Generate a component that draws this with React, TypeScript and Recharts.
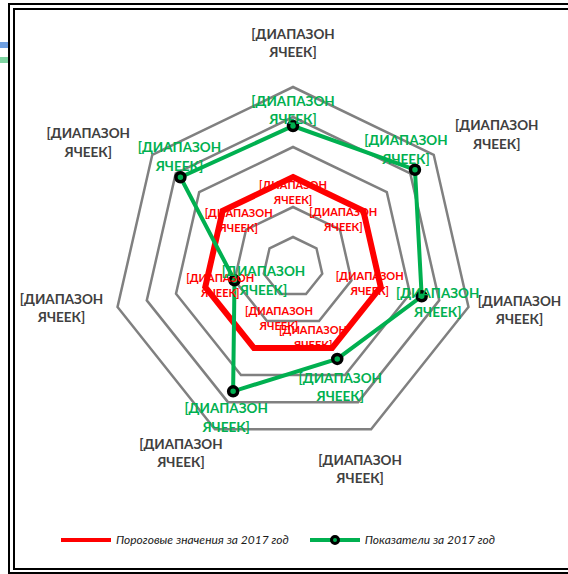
import React from 'react';
import {
  RadarChart,
  Radar,
  PolarGrid,
  PolarAngleAxis,
  PolarRadiusAxis,
  LabelList,
  Legend
} from 'recharts';

// categories (axes), clockwise from the top
const categories = ['c1', 'c2', 'c3', 'c4', 'c5', 'c6', 'c7'];
const categoryLabels = [
  '[ДИАПАЗОН ЯЧЕЕК]',
  '[ДИАПАЗОН ЯЧЕЕК]',
  '[ДИАПАЗОН ЯЧЕЕК]',
  '[ДИАПАЗОН ЯЧЕЕК]',
  '[ДИАПАЗОН ЯЧЕЕК]',
  '[ДИАПАЗОН ЯЧЕЕК]',
  '[ДИАПАЗОН ЯЧЕЕК]'
];

// series
const thresholds = [3, 3, 3, 3, 3, 3, 3];
const actuals = [4.7, 5.2, 4.4, 3.4, 4.6, 2.0, 4.8];
const thresholdLabels = categoryLabels.map(() => '[ДИАПАЗОН ЯЧЕЕК]');
const actualLabels = categoryLabels.map(() => '[ДИАПАЗОН ЯЧЕЕК]');

const radiusTicks = [0, 1, 2, 3, 4, 5, 6];

const seriesNames = ['Пороговые значения за 2017 год', 'Показатели за 2017 год'];

const data = categories.map((c, i) => ({
  id: c,
  threshold: thresholds[i],
  actual: actuals[i],
  thresholdLabel: thresholdLabels[i],
  actualLabel: actualLabels[i]
}));

const W = 568;
const H = 574;
const CX = 293;
const CY = 267;
const R = 180;

const RED = '#FF0000';
const GREEN = '#00B050';
const GRID = '#808080';
const FONT = 'Lato, "Open Sans", sans-serif';

// label nudges (px) like the Excel layout, per axis
const axisLabelNudge = [[0, -44], [63, -20], [51, 3], [-11, 40], [-34, 24], [-56, 1], [-64, -12]];
const redLabelNudge = [[0, 15], [-20, 8], [-11, -4], [-19, -11], [25, -30], [15, -2], [16, 9]];
const greenLabelNudge = [[0, -16], [-9, -20], [16, 6], [3, 28], [-7, 26], [29, 0], [-1, -21]];

const TwoLines = ({ x, y, text, fill, size }: any) => {
  const parts = String(text).split(' ');
  const lh = size * 1.38;
  return (
    <text
      x={x}
      y={y}
      textAnchor="middle"
      fill={fill}
      fontSize={size}
      fontWeight="bold"
      fontFamily={FONT}
    >
      {parts.map((p, i) => (
        <tspan key={i} x={x} y={y + (i - (parts.length - 1) / 2) * lh} dominantBaseline="central">
          {p}
        </tspan>
      ))}
    </text>
  );
};

const dir = (x: number, y: number) => {
  const dx = x - CX;
  const dy = y - CY;
  const len = Math.sqrt(dx * dx + dy * dy) || 1;
  return [dx / len, dy / len];
};

const AngleTick = (props: any) => {
  const { x, y, index } = props;
  const [ux, uy] = dir(x, y);
  const [nx, ny] = axisLabelNudge[index] || [0, 0];
  return (
    <TwoLines
      x={CX + ux * R + nx}
      y={CY + uy * R + ny}
      text={categoryLabels[index]}
      fill="#404040"
      size={13.5}
    />
  );
};

const makeLabel = (nudge: number[][], fill: string, size: number) => (props: any) => {
  const { x, y, value, index } = props;
  if (x == null || y == null) return null;
  const [nx, ny] = nudge[index] || [0, 0];
  return <TwoLines x={x + nx} y={y + ny} text={value} fill={fill} size={size} />;
};

const GreenDot = (props: any) => {
  const { cx, cy } = props;
  return <circle cx={cx} cy={cy} r={4.5} fill={GREEN} stroke="#000" strokeWidth={3.5} />;
};

const LegendContent = () => (
  <div
    style={{
      display: 'flex',
      alignItems: 'center',
      fontFamily: FONT,
      fontStyle: 'italic',
      fontSize: 12,
      color: '#1a1a1a',
      paddingLeft: 60
    }}
  >
    <svg width={52} height={10}>
      <line x1={1} y1={5} x2={51} y2={5} stroke={RED} strokeWidth={4} />
    </svg>
    <span style={{ marginLeft: 4 }}>{seriesNames[0]}</span>
    <svg width={52} height={14} style={{ marginLeft: 20 }}>
      <line x1={1} y1={7} x2={51} y2={7} stroke={GREEN} strokeWidth={4} />
      <circle cx={26} cy={7} r={3.5} fill={GREEN} stroke="#000" strokeWidth={3} />
    </svg>
    <span style={{ marginLeft: 4 }}>{seriesNames[1]}</span>
  </div>
);

const App = () => {
  return (
    <div style={{ position: 'absolute', left: 0, top: 0, width: W, height: H, background: '#fff', overflow: 'hidden' }}>
      {/* stray marks of a chart behind */}
      <div style={{ position: 'absolute', left: 0, top: 42, width: 8, height: 6, background: '#6F9FE0' }} />
      <div style={{ position: 'absolute', left: 0, top: 57, width: 8, height: 6, background: '#7DD3A0' }} />
      {/* double frame */}
      <div style={{ position: 'absolute', left: 8, top: 3, width: 600, height: 567, borderLeft: '2px solid #000', borderTop: '2px solid #000', borderBottom: '2px solid #000' }} />
      <div style={{ position: 'absolute', left: 13, top: 8, width: 600, height: 558, borderLeft: '2px solid #000', borderTop: '2px solid #000', borderBottom: '2px solid #000' }} />
      <div style={{ position: 'absolute', left: 0, top: 0 }}>
        <RadarChart
          width={W}
          height={H}
          data={data}
          cx={CX}
          cy={CY}
          outerRadius={R}
          margin={{ top: 0, right: 0, bottom: 0, left: 0 }}
        >
          <PolarGrid gridType="polygon" radialLines={false} stroke={GRID} strokeWidth={2.5} />
          <PolarAngleAxis dataKey="id" tick={<AngleTick />} tickLine={false} axisLine={false} />
          <PolarRadiusAxis
            domain={[0, 6]}
            ticks={radiusTicks as any}
            tickCount={7}
            tick={false}
            axisLine={false}
          />
          <Radar
            name={seriesNames[0]}
            dataKey="threshold"
            stroke={RED}
            strokeWidth={6}
            fill="none"
            fillOpacity={0}
            isAnimationActive={false}
            dot={false}
          >
            <LabelList dataKey="thresholdLabel" content={makeLabel(redLabelNudge, RED, 11)} />
          </Radar>
          <Radar
            name={seriesNames[1]}
            dataKey="actual"
            stroke={GREEN}
            strokeWidth={4}
            fill="none"
            fillOpacity={0}
            isAnimationActive={false}
            dot={<GreenDot />}
          >
            <LabelList dataKey="actualLabel" content={makeLabel(greenLabelNudge, GREEN, 13.5)} />
          </Radar>
          <Legend
            content={<LegendContent />}
            wrapperStyle={{ position: 'absolute', top: 532, left: 0, width: W }}
          />
        </RadarChart>
      </div>
    </div>
  );
};

export default App;
